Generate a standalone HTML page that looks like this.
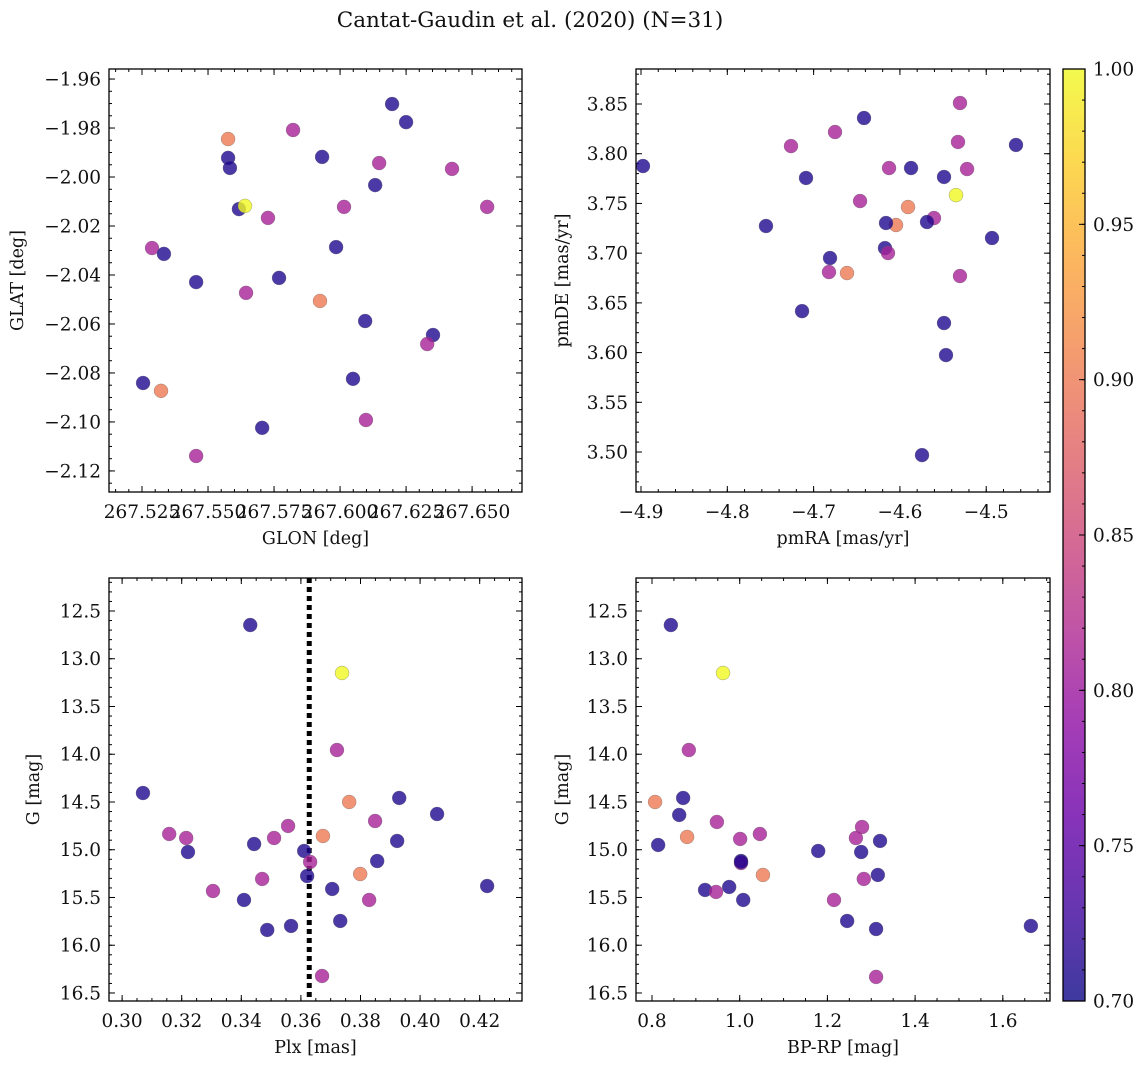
<!DOCTYPE html>
<html><head><meta charset="utf-8">
<style>
html,body{margin:0;padding:0;background:#fff;}
svg text{font-family:"DejaVu Serif","Liberation Serif",serif;fill:#111;}
</style></head>
<body>
<svg id="fig" width="1148" height="1068" viewBox="0 0 1148 1068" xmlns="http://www.w3.org/2000/svg">
<defs>
<linearGradient id="plasma" x1="0" y1="1" x2="0" y2="0">
<stop offset="0" stop-color="#0d0887"/><stop offset="0.1" stop-color="#41049d"/><stop offset="0.2" stop-color="#6a00a8"/><stop offset="0.3" stop-color="#8f0da4"/><stop offset="0.4" stop-color="#b12a90"/><stop offset="0.5" stop-color="#cc4778"/><stop offset="0.6" stop-color="#e16462"/><stop offset="0.7" stop-color="#f2844b"/><stop offset="0.8" stop-color="#fca636"/><stop offset="0.9" stop-color="#fcce25"/><stop offset="1" stop-color="#f0f921"/>
</linearGradient>
</defs>
<text x="530" y="27" font-size="21.5" text-anchor="middle">Cantat-Gaudin et al. (2020) (N=31)</text>
</svg>
<script>
// ---- data ----
const glon = [267.6197,267.625,267.5576,267.5822,267.5576,267.5583,267.5932,267.6148,267.6424,267.6133,267.5617,267.564,267.5727,267.6015,267.6557,267.5288,267.5333,267.5985,267.5455,267.5769,267.5644,267.5924,267.6095,267.6352,267.633,267.5254,267.5322,267.6049,267.6098,267.5705,267.5455];
const glat = [-1.9702,-1.9776,-1.9845,-1.9808,-1.9922,-1.9963,-1.9918,-1.9943,-1.9967,-2.0033,-2.0131,-2.0118,-2.0167,-2.0122,-2.0122,-2.029,-2.0314,-2.0286,-2.0429,-2.0412,-2.0473,-2.0506,-2.0588,-2.0645,-2.0682,-2.0841,-2.0873,-2.0824,-2.0992,-2.1024,-2.1139];
const probTL = [0.71,0.71,0.9,0.81,0.71,0.71,0.71,0.81,0.81,0.71,0.71,1.0,0.81,0.81,0.81,0.81,0.71,0.71,0.71,0.71,0.81,0.9,0.71,0.71,0.81,0.71,0.9,0.71,0.81,0.71,0.81];

const pmra = [-4.8977,-4.6416,-4.5304,-4.7262,-4.6752,-4.4655,-4.7088,-4.6126,-4.5871,-4.5327,-4.5222,-4.5489,-4.535,-4.7552,-4.6462,-4.5906,-4.6045,-4.6161,-4.5605,-4.5686,-4.4933,-4.6173,-4.6138,-4.681,-4.6822,-4.6613,-4.5304,-4.7134,-4.5489,-4.5466,-4.5744];
const pmde = [3.7876,3.8359,3.851,3.8077,3.8218,3.8088,3.7756,3.7856,3.7856,3.8118,3.7846,3.7766,3.7584,3.7273,3.7524,3.7464,3.7283,3.7303,3.7353,3.7313,3.7152,3.7051,3.7001,3.6951,3.681,3.68,3.677,3.6417,3.6297,3.5975,3.4969];
const probTR = [0.71,0.71,0.81,0.81,0.81,0.71,0.71,0.81,0.71,0.81,0.81,0.71,1.0,0.71,0.81,0.9,0.9,0.71,0.81,0.71,0.71,0.71,0.81,0.71,0.81,0.9,0.81,0.71,0.71,0.71,0.71];

const plx = [0.343,0.3738,0.3721,0.307,0.3762,0.393,0.3849,0.4057,0.3158,0.3215,0.3557,0.351,0.3443,0.3674,0.3923,0.3221,0.3611,0.3631,0.3856,0.3621,0.3799,0.347,0.3305,0.3705,0.4225,0.3409,0.3829,0.3732,0.3567,0.3487,0.3671];
const gBL = [12.647,13.149,13.956,14.406,14.5,14.458,14.699,14.626,14.835,14.877,14.751,14.877,14.94,14.856,14.908,15.024,15.013,15.128,15.118,15.275,15.254,15.306,15.432,15.411,15.38,15.526,15.526,15.746,15.798,15.84,16.322];
const probBL = [0.71,1.0,0.81,0.71,0.9,0.71,0.81,0.71,0.81,0.81,0.81,0.81,0.71,0.9,0.71,0.71,0.71,0.81,0.71,0.71,0.9,0.81,0.81,0.71,0.71,0.71,0.81,0.71,0.71,0.71,0.81];
const plxCut = [0.3628];

const bprp = [0.843,0.962,0.884,0.871,0.807,0.862,0.948,1.046,1.279,0.814,0.880,1.001,1.265,1.32,1.179,1.277,1.003,1.003,1.315,1.053,1.283,0.921,0.976,0.946,1.008,1.215,1.245,1.311,1.664,1.311,1.003];
const gBR = [12.647,13.149,13.956,14.458,14.5,14.636,14.709,14.835,14.762,14.95,14.866,14.887,14.877,14.908,15.013,15.024,15.118,15.139,15.264,15.264,15.306,15.421,15.39,15.442,15.526,15.526,15.746,15.83,15.798,16.332,15.128];
const probBR = [0.71,1.0,0.81,0.71,0.9,0.71,0.81,0.81,0.81,0.71,0.9,0.81,0.81,0.71,0.71,0.71,0.71,0.81,0.71,0.9,0.81,0.71,0.71,0.81,0.71,0.81,0.71,0.71,0.71,0.81,0.71];

const xtTL = ["267.525","267.550","267.575","267.600","267.625","267.650"];
const ytTL = ["−1.96","−1.98","−2.00","−2.02","−2.04","−2.06","−2.08","−2.10","−2.12"];
const xtTR = ["−4.9","−4.8","−4.7","−4.6","−4.5"];
const ytTR = ["3.50","3.55","3.60","3.65","3.70","3.75","3.80","3.85"];
const xtBL = ["0.30","0.32","0.34","0.36","0.38","0.40","0.42"];
const ytG = ["12.5","13.0","13.5","14.0","14.5","15.0","15.5","16.0","16.5"];
const xtBR = ["0.8","1.0","1.2","1.4","1.6"];
const cbTicks = ["0.70","0.75","0.80","0.85","0.90","0.95","1.00"];

// ---- drawing ----
const NS="http://www.w3.org/2000/svg";
const svg=document.getElementById('fig');
const FS=18.5;
function mk(tag,attrs,parent){const e=document.createElementNS(NS,tag);for(const k in attrs)e.setAttribute(k,attrs[k]);(parent||svg).appendChild(e);return e;}
const stops=[[0,[13,8,135]],[0.1,[65,4,157]],[0.2,[106,0,168]],[0.3,[143,13,164]],[0.4,[177,42,144]],[0.5,[204,71,120]],[0.6,[225,100,98]],[0.7,[242,132,75]],[0.8,[252,166,54]],[0.9,[252,206,37]],[1,[240,249,33]]];
function plasma(t){t=Math.max(0,Math.min(1,t));for(let i=1;i<stops.length;i++){if(t<=stops[i][0]){const a=stops[i-1],b=stops[i];const f=(t-a[0])/(b[0]-a[0]);const c=a[1].map((v,j)=>Math.round(v+(b[1][j]-v)*f));return `rgb(${c[0]},${c[1]},${c[2]})`;}}return 'rgb(240,249,33)';}

function panel(o){
  const g=mk('g',{});
  
  
  const L=o.box[0],T=o.box[1],R=o.box[2],B=o.box[3];
  const sx=v=>L+(v-o.xd[0])/(o.xd[1]-o.xd[0])*(R-L);
  const sy=o.yinv? v=>T+(v-o.yd[0])/(o.yd[1]-o.yd[0])*(B-T) : v=>B-(v-o.yd[0])/(o.yd[1]-o.yd[0])*(B-T);
  const tk=mk('g',{stroke:'#000','stroke-width':1},g);
  function ticksX(lo,step,minor,labels){
    const xs0=Math.ceil((o.xd[0]-1e-9)/minor);const xs1=Math.floor((o.xd[1]+1e-9)/minor);
    for(let i=xs0;i<=xs1;i++){const v=i*minor;const x=sx(v);mk('line',{x1:x,x2:x,y1:B,y2:B-3,},tk);mk('line',{x1:x,x2:x,y1:T,y2:T+3},tk);}
    labels.forEach((s,i)=>{const v=lo+i*step;const x=sx(v);mk('line',{x1:x,x2:x,y1:B,y2:B-6},tk);mk('line',{x1:x,x2:x,y1:T,y2:T+6},tk);
      const t=mk('text',{x:x,y:B+26,'font-size':FS,'text-anchor':'middle'},g);t.textContent=s;
      });
  }
  function ticksY(lo,step,minor,labels){
    const a=Math.min(o.yd[0],o.yd[1]),b=Math.max(o.yd[0],o.yd[1]);
    for(let i=Math.ceil((a-1e-9)/minor);i<=Math.floor((b+1e-9)/minor);i++){const y=sy(i*minor);mk('line',{x1:L,x2:L+3,y1:y,y2:y},tk);mk('line',{x1:R,x2:R-3,y1:y,y2:y},tk);}
    labels.forEach((s,i)=>{const v=lo+i*step;const y=sy(v);mk('line',{x1:L,x2:L+6,y1:y,y2:y},tk);mk('line',{x1:R,x2:R-6,y1:y,y2:y},tk);
      const t=mk('text',{x:L-8,y:y+6.5,'font-size':FS,'text-anchor':'end'},g);t.textContent=s;
      });
  }
  ticksX(o.xt[0],o.xt[1],o.xt[2],o.xl);
  ticksY(o.yt[0],o.yt[1],o.yt[2],o.yl);
  if(o.vline){o.vline.forEach(v=>{const l=mk('line',{x1:sx(v),x2:sx(v),y1:T,y2:B,stroke:'#000','stroke-width':5,'stroke-dasharray':'5,4'},g);
    });}
  for(let i=0;i<o.x.length;i++){
    const c=mk('circle',{cx:sx(o.x[i]),cy:sy(o.y[i]),r:7,fill:plasma((o.p[i]-0.7)/0.3),'fill-opacity':0.8,stroke:'#666','stroke-width':0.5,'stroke-opacity':0.6},g);
    
    
  }
  mk('rect',{x:L,y:T,width:R-L,height:B-T,fill:'none',stroke:'#000','stroke-width':1.3},g);
  const xl=mk('text',{x:(L+R)/2,y:B+52,'font-size':17.5,'text-anchor':'middle'},g);xl.textContent=o.xlab;
  
  const yx=o.ylx,yy=(T+B)/2;
  const yl=mk('text',{x:yx,y:yy,'font-size':17.5,'text-anchor':'middle',transform:`rotate(-90 ${yx} ${yy})`},g);yl.textContent=o.ylab;
  
}

panel({name:'glon-glat-panel',box:[109,69,522,492],xd:[267.5125,267.6689],yd:[-2.1286,-1.9559],
  xt:[267.525,0.025,0.005],xl:xtTL,yt:[-1.96,-0.02,0.005],yl:ytTL,x:glon,y:glat,p:probTL,xlab:'GLON [deg]',ylab:'GLAT [deg]',ylx:23});
panel({name:'proper-motion-panel',box:[636,69,1050,492],xd:[-4.9058,-4.4261],yd:[3.4598,3.8852],
  xt:[-4.9,0.1,0.02],xl:xtTR,yt:[3.50,0.05,0.01],yl:ytTR,x:pmra,y:pmde,p:probTR,xlab:'pmRA [mas/yr]',ylab:'pmDE [mas/yr]',ylx:568});
panel({name:'plx-g-panel',box:[109,578,522,1001],xd:[0.2956,0.4342],yd:[12.1545,16.584],yinv:true,
  xt:[0.30,0.02,0.005],xl:xtBL,yt:[12.5,0.5,0.1],yl:ytG,x:plx,y:gBL,p:probBL,vline:plxCut,xlab:'Plx [mas]',ylab:'G [mag]',ylx:39});
panel({name:'cmd-panel',box:[636,578,1050,1001],xd:[0.7635,1.7076],yd:[12.1545,16.584],yinv:true,
  xt:[0.8,0.2,0.05],xl:xtBR,yt:[12.5,0.5,0.1],yl:ytG,x:bprp,y:gBR,p:probBR,xlab:'BP-RP [mag]',ylab:'G [mag]',ylx:568});

(function(){
  const g=mk('g',{});
  
  
  const L=1063,R=1085,T=69,B=1001;
  mk('rect',{x:L,y:T,width:R-L,height:B-T,fill:'url(#plasma)','fill-opacity':0.8},g);
  const sy=v=>B-(v-0.7)/0.3*(B-T);
  for(let i=70;i<=100;i++){const y=sy(i/100);mk('line',{x1:R,x2:R-3,y1:y,y2:y,stroke:'#000'},g);}
  cbTicks.forEach(s=>{const y=sy(parseFloat(s));mk('line',{x1:R,x2:R-6,y1:y,y2:y,stroke:'#000'},g);
    const t=mk('text',{x:R+8,y:y+6.5,'font-size':FS},g);t.textContent=s;
    });
  mk('rect',{x:L,y:T,width:R-L,height:B-T,fill:'none',stroke:'#000','stroke-width':1.3},g);
})();
</script>
</body></html>
